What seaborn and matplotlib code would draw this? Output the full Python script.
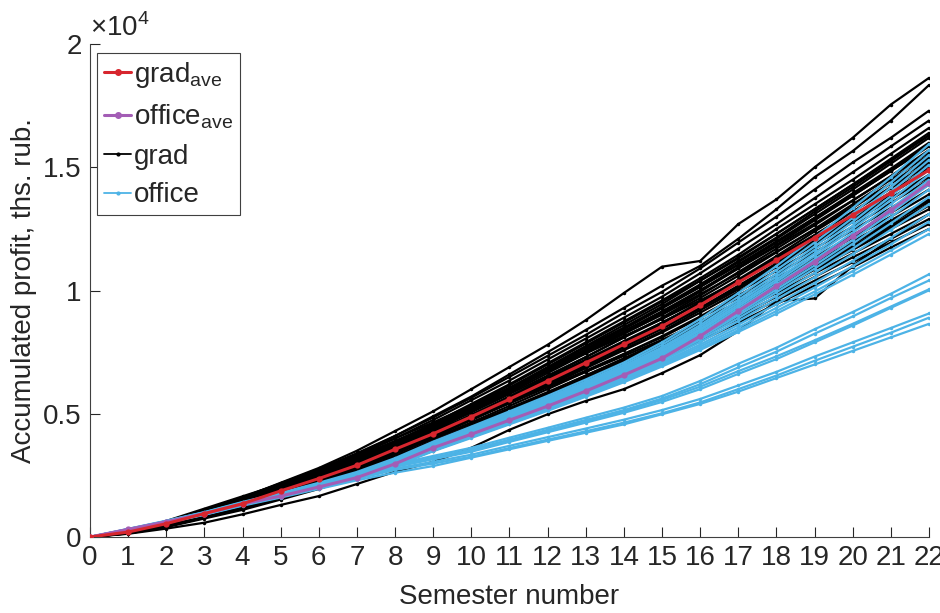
import pandas as pd
import matplotlib
matplotlib.use("Agg")
import matplotlib.pyplot as plt
from matplotlib.lines import Line2D
import seaborn as sns

# Semesters on the x axis
semesters = list(range(23))

# Average curves (ths. rub.)
grad_ave = [0, 200, 540, 950, 1350, 1870, 2370, 2910, 3560, 4190, 4880, 5590, 6330,
            7070, 7820, 8550, 9410, 10330, 11230, 12140, 13060, 13960, 14890]
office_ave = [0, 310, 620, 950, 1340, 1660, 2030, 2410, 2970, 3620, 4170, 4740, 5310,
              5920, 6570, 7250, 8150, 9170, 10180, 11170, 12210, 13260, 14370]

# Individual "grad" runs
grad_runs = [
    [0, 240, 600, 1100, 1600, 2200, 2800, 3500, 4300, 5100, 6000, 6900, 7800, 8800, 9900, 10970, 11200, 12700, 13700, 15000, 16200, 17550, 18630],
    [0, 230, 580, 1050, 1550, 2100, 2700, 3350, 4100, 4900, 5700, 6600, 7500, 8400, 9300, 10200, 11000, 12100, 13300, 14600, 15660, 16900, 18340],
    [0, 220, 590, 1080, 1550, 2150, 2750, 3400, 4100, 4850, 5650, 6500, 7350, 8200, 9100, 9950, 10900, 11950, 13000, 14100, 15200, 16200, 17300],
    [0, 230, 570, 1020, 1500, 2050, 2650, 3300, 4000, 4750, 5550, 6350, 7200, 8050, 8900, 9750, 10700, 11700, 12700, 13750, 14800, 15850, 16900],
    [0, 210, 560, 1000, 1450, 2000, 2550, 3150, 3850, 4600, 5400, 6200, 7050, 7900, 8750, 9600, 10500, 11450, 12500, 13500, 14500, 15550, 16600],
    [0, 200, 520, 960, 1420, 1950, 2500, 3100, 3800, 4500, 5250, 6050, 6900, 7750, 8600, 9450, 10400, 11350, 12300, 13300, 14300, 15350, 16400],
    [0, 220, 580, 1050, 1500, 2050, 2600, 3200, 3850, 4550, 5300, 6050, 6850, 7700, 8500, 9350, 10250, 11200, 12150, 13200, 14200, 15250, 16300],
    [0, 190, 510, 920, 1350, 1850, 2400, 3000, 3700, 4400, 5150, 5950, 6750, 7600, 8450, 9300, 10200, 11150, 12100, 13100, 14100, 15150, 16200],
    [0, 210, 550, 980, 1420, 1950, 2500, 3100, 3750, 4450, 5200, 5950, 6750, 7500, 8300, 9100, 10000, 10950, 11950, 12950, 13950, 14950, 16000],
    [0, 200, 530, 950, 1380, 1900, 2420, 3000, 3650, 4350, 5100, 5850, 6650, 7450, 8250, 9050, 9950, 10900, 11850, 12850, 13850, 14850, 15900],
    [0, 180, 490, 890, 1300, 1780, 2300, 2880, 3520, 4200, 4950, 5700, 6500, 7300, 8100, 8900, 9800, 10750, 11700, 12650, 13650, 14650, 15700],
    [0, 210, 560, 990, 1420, 1950, 2480, 3050, 3680, 4350, 5050, 5800, 6550, 7300, 8100, 8850, 9700, 10600, 11550, 12500, 13500, 14500, 15500],
    [0, 190, 500, 900, 1320, 1820, 2330, 2880, 3500, 4150, 4850, 5550, 6300, 7050, 7850, 8650, 9550, 10450, 11400, 12400, 13350, 14350, 15400],
    [0, 200, 540, 960, 1380, 1900, 2420, 2980, 3600, 4250, 4950, 5700, 6450, 7200, 7950, 8700, 9500, 10400, 11300, 12250, 13200, 14200, 15200],
    [0, 170, 470, 860, 1260, 1750, 2250, 2800, 3420, 4050, 4750, 5450, 6200, 6950, 7700, 8450, 9300, 10200, 11100, 12050, 13000, 14000, 15000],
    [0, 210, 560, 980, 1400, 1920, 2430, 2980, 3600, 4230, 4900, 5600, 6300, 7020, 7750, 8480, 9300, 10150, 11050, 11950, 12900, 13900, 14900],
    [0, 190, 510, 920, 1320, 1820, 2300, 2830, 3450, 4080, 4750, 5450, 6150, 6880, 7620, 8350, 9200, 10050, 10950, 11850, 12800, 13750, 14700],
    [0, 200, 530, 940, 1340, 1850, 2330, 2860, 3480, 4100, 4760, 5440, 6130, 6850, 7580, 8300, 9100, 9950, 10800, 11700, 12600, 13550, 14500],
    [0, 180, 500, 900, 1300, 1780, 2260, 2780, 3380, 4000, 4650, 5320, 6000, 6700, 7420, 8150, 8950, 9800, 10650, 11550, 12450, 13350, 14300],
    [0, 220, 570, 990, 1400, 1920, 2420, 2950, 3550, 4150, 4780, 5420, 6080, 6750, 7430, 8100, 8900, 9700, 10500, 11350, 12250, 13150, 14100],
    [0, 170, 460, 840, 1230, 1700, 2170, 2680, 3270, 3880, 4520, 5180, 5850, 6550, 7250, 7950, 8750, 9550, 10400, 11250, 12150, 13000, 13900],
    [0, 190, 500, 880, 1270, 1750, 2220, 2730, 3300, 3900, 4520, 5150, 5800, 6480, 7180, 7880, 8650, 9450, 10300, 11150, 12000, 12850, 13700],
    [0, 200, 520, 920, 1320, 1800, 2280, 2800, 3380, 3980, 4600, 5230, 5880, 6550, 7230, 7900, 8600, 9350, 10150, 10950, 11800, 12650, 13500],
    [0, 160, 440, 800, 1180, 1630, 2080, 2570, 3120, 3700, 4320, 4950, 5600, 6270, 6960, 7650, 8400, 9200, 10000, 10850, 11650, 12500, 13300],
    [0, 180, 480, 860, 1240, 1700, 2150, 2640, 3200, 3780, 4380, 5000, 5630, 6280, 6950, 7620, 8350, 9100, 9900, 10700, 11500, 12300, 13100],
    [0, 150, 420, 780, 1150, 1590, 2020, 2500, 3050, 3620, 4220, 4840, 5470, 6130, 6800, 7480, 8200, 8950, 9750, 10550, 11350, 12100, 12900],
    [0, 170, 450, 820, 1190, 1630, 2070, 2540, 3080, 3640, 4230, 4830, 5450, 6090, 6740, 7400, 8100, 8850, 9600, 10400, 11150, 11950, 12700],
    [0, 140, 400, 750, 1100, 1520, 1950, 2420, 2950, 3500, 4080, 4680, 5300, 5940, 6590, 7250, 7950, 8700, 9450, 10200, 10950, 11750, 12500],
    [0, 130, 340, 580, 920, 1300, 1660, 2150, 2650, 3050, 3620, 4350, 4980, 5520, 6000, 6650, 7380, 8360, 9570, 9680, 11000, 12100, 13100],
    [0, 250, 650, 1150, 1650, 2150, 2650, 3150, 3700, 4300, 4900, 5500, 6100, 6700, 7350, 8000, 8700, 9450, 10250, 11050, 11900, 12750, 13600],
    [0, 160, 450, 850, 1300, 1850, 2450, 3100, 3800, 4550, 5350, 6150, 7000, 7850, 8700, 9550, 10400, 11300, 12300, 13300, 14300, 15300, 16300],
    [0, 200, 520, 930, 1350, 1880, 2400, 2950, 3600, 4250, 4950, 5650, 6400, 7150, 7900, 8700, 9500, 10400, 11350, 12250, 13200, 14150, 15100],
    [0, 230, 610, 1100, 1600, 2180, 2750, 3350, 4000, 4650, 5350, 6050, 6750, 7450, 8150, 8850, 9600, 10400, 11200, 12050, 12900, 13750, 14600],
    [0, 150, 420, 800, 1200, 1700, 2250, 2850, 3550, 4300, 5100, 5900, 6750, 7600, 8450, 9300, 10150, 11050, 12000, 12950, 13900, 14900, 15900],
    [0, 210, 560, 1000, 1450, 1980, 2530, 3120, 3780, 4480, 5230, 6000, 6800, 7620, 8450, 9280, 10150, 11050, 11950, 12900, 13850, 14850, 15850],
    [0, 180, 480, 880, 1290, 1790, 2290, 2840, 3460, 4110, 4800, 5500, 6230, 6970, 7720, 8470, 9280, 10120, 10980, 11870, 12780, 13700, 14650],
    [0, 240, 620, 1100, 1580, 2130, 2680, 3260, 3900, 4560, 5260, 5980, 6720, 7480, 8250, 9020, 9850, 10700, 11580, 12480, 13400, 14350, 15300],
    [0, 170, 450, 830, 1220, 1690, 2160, 2670, 3240, 3830, 4450, 5080, 5720, 6380, 7060, 7750, 8500, 9280, 10080, 10900, 11730, 12580, 13450],
    [0, 220, 590, 1060, 1530, 2080, 2640, 3230, 3880, 4560, 5280, 6020, 6780, 7560, 8360, 9160, 10020, 10900, 11800, 12720, 13660, 14620, 15600],
    [0, 160, 430, 790, 1170, 1640, 2100, 2600, 3170, 3770, 4400, 5050, 5720, 6410, 7110, 7820, 8580, 9380, 10200, 11040, 11900, 12780, 13680],
]

# Individual "office" runs
office_runs = [
    [0, 330, 660, 1010, 1420, 1790, 2200, 2640, 3200, 3870, 4480, 5100, 5730, 6390, 7080, 7900, 8850, 9900, 11000, 12150, 13350, 14600, 15940],
    [0, 320, 650, 1000, 1400, 1770, 2170, 2600, 3150, 3820, 4420, 5040, 5660, 6310, 7000, 7800, 8720, 9750, 10830, 11950, 13130, 14380, 15700],
    [0, 310, 640, 990, 1390, 1750, 2150, 2580, 3120, 3780, 4380, 4990, 5610, 6250, 6930, 7700, 8600, 9620, 10680, 11790, 12950, 14190, 15500],
    [0, 320, 630, 980, 1380, 1740, 2130, 2550, 3090, 3750, 4340, 4950, 5560, 6200, 6880, 7640, 8520, 9520, 10560, 11650, 12790, 14010, 15300],
    [0, 300, 620, 970, 1370, 1720, 2110, 2530, 3060, 3720, 4310, 4910, 5520, 6150, 6820, 7570, 8440, 9430, 10450, 11510, 12630, 13830, 15100],
    [0, 310, 630, 980, 1370, 1730, 2110, 2520, 3050, 3700, 4290, 4880, 5480, 6110, 6780, 7520, 8380, 9350, 10360, 11400, 12500, 13680, 14900],
    [0, 300, 610, 960, 1350, 1700, 2080, 2490, 3020, 3670, 4250, 4840, 5440, 6060, 6720, 7460, 8300, 9260, 10250, 11270, 12350, 13500, 14700],
    [0, 310, 620, 970, 1360, 1710, 2090, 2500, 3030, 3670, 4250, 4830, 5420, 6030, 6680, 7400, 8230, 9170, 10140, 11140, 12200, 13330, 14500],
    [0, 300, 600, 950, 1340, 1690, 2060, 2470, 3000, 3640, 4210, 4790, 5370, 5980, 6620, 7340, 8150, 9080, 10040, 11020, 12050, 13150, 14300],
    [0, 290, 600, 950, 1330, 1680, 2050, 2450, 2980, 3610, 4180, 4750, 5330, 5930, 6570, 7280, 8080, 8990, 9930, 10890, 11900, 12980, 14100],
    [0, 300, 610, 960, 1340, 1690, 2060, 2460, 2980, 3610, 4170, 4740, 5310, 5900, 6530, 7220, 8000, 8880, 9790, 10720, 11700, 12730, 13800],
    [0, 290, 590, 940, 1320, 1670, 2030, 2430, 2950, 3570, 4130, 4690, 5260, 5850, 6470, 7150, 7910, 8760, 9640, 10540, 11480, 12470, 13500],
    [0, 300, 600, 950, 1330, 1670, 2030, 2420, 2930, 3550, 4100, 4660, 5220, 5800, 6410, 7080, 7810, 8610, 9450, 10310, 11210, 12140, 13100],
    [0, 290, 590, 930, 1310, 1650, 2010, 2400, 2910, 3520, 4070, 4620, 5180, 5760, 6360, 7020, 7730, 8500, 9300, 10120, 10990, 11880, 12800],
    [0, 280, 580, 920, 1300, 1640, 2000, 2390, 2900, 3500, 4050, 4600, 5150, 5720, 6320, 6960, 7650, 8400, 9170, 9960, 10790, 11630, 12500],
    [0, 290, 590, 930, 1300, 1640, 1990, 2380, 2880, 3480, 4020, 4570, 5120, 5690, 6280, 6920, 7590, 8320, 9060, 9840, 10640, 11460, 12300],
    [0, 310, 620, 960, 1350, 1700, 2080, 2480, 2950, 3290, 3620, 4030, 4430, 4840, 5250, 5720, 6330, 7030, 7680, 8430, 9130, 9870, 10660],
    [0, 300, 610, 950, 1340, 1690, 2060, 2460, 2900, 3220, 3550, 3950, 4350, 4750, 5150, 5620, 6200, 6880, 7520, 8250, 8950, 9700, 10410],
    [0, 300, 600, 940, 1330, 1680, 2050, 2440, 2860, 3180, 3490, 3900, 4300, 4700, 5100, 5560, 6100, 6730, 7330, 7980, 8650, 9350, 10050],
    [0, 290, 590, 930, 1320, 1670, 2040, 2420, 2850, 3150, 3460, 3860, 4250, 4640, 5040, 5480, 6000, 6620, 7220, 7900, 8580, 9300, 10010],
    [0, 290, 590, 920, 1300, 1650, 2010, 2390, 2780, 3050, 3340, 3700, 4050, 4400, 4760, 5150, 5600, 6150, 6700, 7320, 7900, 8480, 9070],
    [0, 280, 580, 910, 1290, 1630, 1990, 2360, 2720, 2980, 3260, 3610, 3950, 4290, 4640, 5020, 5460, 6000, 6550, 7150, 7720, 8290, 8900],
    [0, 280, 570, 900, 1270, 1600, 1950, 2300, 2610, 2880, 3220, 3560, 3900, 4230, 4570, 4980, 5400, 5900, 6450, 7000, 7550, 8100, 8650],
]

y_ticks = [0, 5000, 10000, 15000, 20000]
y_tick_labels = ["0", "0.5", "1", "1.5", "2"]

GRAD_COLOR = "black"
OFFICE_COLOR = "#4db3e6"
GRAD_AVE_COLOR = "#d7262e"
OFFICE_AVE_COLOR = "#a35db5"
AXIS_COLOR = "#262626"


def to_long(runs, prefix):
    rows = []
    for i, vals in enumerate(runs):
        for s, v in zip(semesters, vals):
            rows.append({"semester": s, "profit": v, "run": f"{prefix}{i}"})
    return pd.DataFrame(rows)


sns.set_style("ticks")
plt.rcParams["font.family"] = ["Liberation Sans", "DejaVu Sans"]
plt.rcParams["mathtext.fontset"] = "custom"
plt.rcParams["mathtext.rm"] = "Liberation Sans"

fig = plt.figure(figsize=(9.4, 6.13), dpi=100)
ax = fig.add_axes([0.0957, 0.124, 0.8926, 0.804])

df_grad = to_long(grad_runs, "g")
df_office = to_long(office_runs, "o")

# individual runs: black first, blue over it, averages on top
sns.lineplot(data=df_grad, x="semester", y="profit", units="run", estimator=None,
             color=GRAD_COLOR, lw=1.6, marker=".", markersize=5, markeredgewidth=0,
             legend=False, ax=ax, zorder=2)
sns.lineplot(data=df_office, x="semester", y="profit", units="run", estimator=None,
             color=OFFICE_COLOR, lw=1.6, marker=".", markersize=5, markeredgewidth=0,
             legend=False, ax=ax, zorder=3)
sns.lineplot(x=semesters, y=office_ave, color=OFFICE_AVE_COLOR, lw=2.2, marker="o",
             markersize=4.5, markeredgewidth=0, ax=ax, zorder=4)
sns.lineplot(x=semesters, y=grad_ave, color=GRAD_AVE_COLOR, lw=2.2, marker="o",
             markersize=4.5, markeredgewidth=0, ax=ax, zorder=5)

ax.set_xlim(0, 22)
ax.set_ylim(0, 20000)
ax.set_xticks(semesters)
ax.set_xticklabels([str(s) for s in semesters])
ax.set_yticks(y_ticks)
ax.set_yticklabels(y_tick_labels)
ax.tick_params(direction="in", length=7, width=0.8, labelsize=20, pad=6,
               colors=AXIS_COLOR)
for side in ["top", "right"]:
    ax.spines[side].set_visible(False)
for side in ["left", "bottom"]:
    ax.spines[side].set_color("#404040")
    ax.spines[side].set_linewidth(0.8)

ax.set_xlabel("Semester number", fontsize=20, color=AXIS_COLOR, labelpad=9)
ax.set_ylabel("Accumulated profit, ths. rub.", fontsize=20, color=AXIS_COLOR, labelpad=4)
ax.text(0.0, 1.005, r"$\times$10$^4$", transform=ax.transAxes, fontsize=20,
        color=AXIS_COLOR, ha="left", va="bottom")

handles = [
    Line2D([], [], color=GRAD_AVE_COLOR, lw=2.2, marker="o", markersize=4),
    Line2D([], [], color=OFFICE_AVE_COLOR, lw=2.2, marker="o", markersize=4),
    Line2D([], [], color=GRAD_COLOR, lw=1.3, marker=".", markersize=4),
    Line2D([], [], color=OFFICE_COLOR, lw=1.3, marker=".", markersize=4),
]
labels = [r"grad$_{\mathrm{ave}}$", r"office$_{\mathrm{ave}}$", "grad", "office"]
leg = ax.legend(handles, labels, loc="upper left", bbox_to_anchor=(0.008, 0.982),
                fontsize=20, frameon=True, fancybox=False, handlelength=1.0,
                handletextpad=0.1, borderpad=0.25, labelspacing=0.45,
                borderaxespad=0.0)
leg.get_frame().set_edgecolor("#404040")
leg.get_frame().set_linewidth(0.8)
leg.get_frame().set_alpha(1)

fig.savefig("out.png", dpi=100)
